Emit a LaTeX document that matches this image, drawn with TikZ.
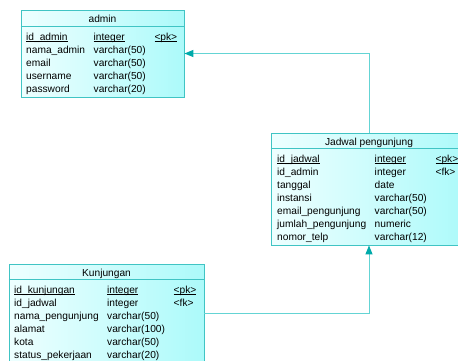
\documentclass[tikz,border=0pt]{standalone}
\usepackage{fontspec}
\setmainfont{Liberation Sans}
\usepackage{tikz}
\usetikzlibrary{matrix,positioning,arrows.meta}
\usepackage{xcolor}
\definecolor{entline}{RGB}{64,196,196}
\definecolor{entlight}{RGB}{238,255,255}
\definecolor{entdark}{RGB}{172,250,250}
\definecolor{linkcol}{RGB}{100,212,212}
\definecolor{tipcol}{RGB}{0,170,170}
\newsavebox{\keybox}
\newcommand{\keyu}[1]{\sbox{\keybox}{#1}\usebox{\keybox}\llap{\rule[-1.7pt]{\wd\keybox}{.55pt}}}

\tikzset{
  ent/.style={draw=entline,line width=.8pt,left color=entlight,right color=entdark,inner sep=0pt},
  enttitle/.style={inner sep=0pt,text height=9pt,text depth=4pt},
  cols/.style={matrix of nodes,ampersand replacement=\&,anchor=north west,inner sep=0pt,
    column sep=8.5pt,row sep=0pt,nodes={inner sep=0pt,anchor=base west,text height=9pt,text depth=4pt}},
  link/.style={draw=linkcol,line width=1pt,-{Triangle[length=9pt,width=7pt,color=tipcol]}}
}

\begin{document}
\begin{tikzpicture}[x=1pt,y=-1pt,font=\fontsize{10.2pt}{12pt}\selectfont]
    \useasboundingbox (0,0) rectangle (458,360);
    \clip (0,0) rectangle (458,360);
    % admin
    \node[ent,minimum width=163pt,minimum height=87pt] (admin) at (102.5,53.5) {};
    \node[enttitle,below=3.5pt of admin.north] (adminH) {admin};
    \draw[entline,line width=.8pt] ([yshift=-17pt]admin.north west) -- ([yshift=-17pt]admin.north east);
    \matrix (adminT) [cols] at (26,31) {
      \keyu{id\_admin} \& \keyu{integer} \& \keyu{<pk>}\\
      nama\_admin \& varchar(50) \& \\
      email \& varchar(50) \& \\
      username \& varchar(50) \& \\
      password \& varchar(20) \& \\
    };
    % jadwal
    \node[ent,minimum width=196pt,minimum height=112pt] (jadwal) at (369,189) {};
    \node[enttitle,below=4pt of jadwal.north] (jadwalH) {Jadwal pengunjung};
    \draw[entline,line width=.8pt] ([yshift=-16pt]jadwal.north west) -- ([yshift=-16pt]jadwal.north east);
    \matrix (jadwalT) [cols] at (277,153) {
      \keyu{id\_jadwal} \& \keyu{integer} \& \keyu{<pk>}\\
      id\_admin \& integer \& <fk>\\
      tanggal \& date \& \\
      instansi \& varchar(50) \& \\
      email\_pengunjung \& varchar(50) \& \\
      jumlah\_pengunjung \& numeric \& \\
      nomor\_telp \& varchar(12) \& \\
    };
    % kunjungan
    \node[ent,minimum width=195pt,minimum height=99pt] (kunj) at (106.5,313.5) {};
    \node[enttitle,below=3.5pt of kunj.north] (kunjH) {Kunjungan};
    \draw[entline,line width=.8pt] ([yshift=-16pt]kunj.north west) -- ([yshift=-16pt]kunj.north east);
    \matrix (kunjT) [cols] at (14,284) {
      \keyu{id\_kunjungan} \& \keyu{integer} \& \keyu{<pk>}\\
      id\_jadwal \& integer \& <fk>\\
      nama\_pengunjung \& varchar(50) \& \\
      alamat \& varchar(100) \& \\
      kota \& varchar(50) \& \\
      status\_pekerjaan \& varchar(20) \& \\
    };
    % links
    \draw[link] (jadwal.north) |- (admin.east);
    \draw[link] (kunj.east) -| (jadwal.south);
  \end{tikzpicture}
\end{document}
